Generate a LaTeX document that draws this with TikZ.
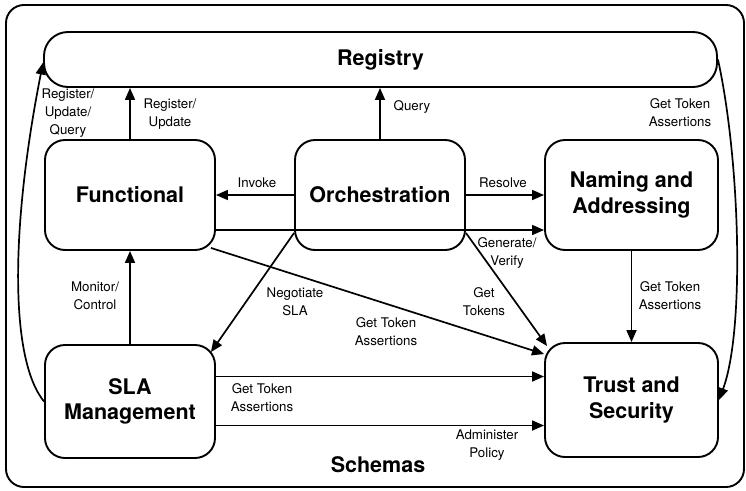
\documentclass[tikz,border=0pt]{standalone}
\usepackage{fontspec}
\setmainfont{TeX Gyre Heros}
\usetikzlibrary{arrows.meta,calc}
\begin{document}
\begin{tikzpicture}[x=1pt,y=-1pt,
  box/.style={draw, line width=1.9pt, rounded corners=20pt, align=center, font=\fontsize{21.5}{25.5}\selectfont\bfseries, inner sep=0pt},
  lbl/.style={align=center, font=\fontsize{13.3}{18}\selectfont, inner sep=0pt},
  arr/.style={line width=1.7pt, -{Triangle[length=12pt,width=10pt]}}]
\useasboundingbox (0,0) rectangle (746,490);
% container and boxes
\node[box, minimum width=738pt, minimum height=482pt, rounded corners=18pt] (frame) at (375,246) {};
\node[box, minimum width=673pt, minimum height=55pt, rounded corners=24pt] (registry) at (380.5,59.5) {Registry};
\node[box, minimum width=170pt, minimum height=110pt] (func) at (130,195) {Functional};
\node[box, minimum width=170pt, minimum height=110pt] (orch) at (380,195) {Orchestration};
\node[box, minimum width=173pt, minimum height=110pt] (naming) at (631.5,195) {Naming and\\Addressing};
\node[box, minimum width=170pt, minimum height=113pt] (sla) at (130,401.5) {SLA\\Management};
\node[box, minimum width=173pt, minimum height=114pt] (trust) at (631.5,400) {Trust and\\Security};
\node[font=\fontsize{21.5}{25.5}\selectfont\bfseries, inner sep=0pt] (schemas) at (378,465) {Schemas};
% connectors
\draw[arr] (func.north) -- (func.north |- registry.south);
\draw[arr] (orch.north) -- (orch.north |- registry.south);
\draw[arr] (orch.west) -- (func.east);
\draw[arr] (orch.east) -- (naming.west);
\draw[arr] (func.east |- 0,230) -- (naming.west |- 0,230);
\draw[arr] ([xshift=-5pt,yshift=3pt]func.south east) -- ([yshift=-12pt]trust.north west);
\draw[arr] ([yshift=18pt]orch.south west) -- ([xshift=-5pt,yshift=-8pt]sla.north east);
\draw[arr] ([yshift=18pt]orch.south east) -- ([xshift=3pt,yshift=-4pt]trust.north west);
\draw[arr] (naming.south) -- (trust.north);
\draw[arr] ([yshift=25pt]sla.east) -- ([yshift=25pt]sla.east -| trust.west);
\draw[arr] ([yshift=-24pt]sla.east) -- ([yshift=-24pt]sla.east -| trust.west);
\draw[arr] (sla.north) -- (func.south);
\draw[arr] (sla.west) .. controls (10,360) and (10,230) .. ([yshift=-3pt]registry.west);
\draw[arr] (registry.east) .. controls (740,160) and (745,330) .. (trust.east);
% labels
\node[lbl] (lrq) at (68,113) {Register/\\Update/\\Query};
\node[lbl] (lru) at (170,114) {Register/\\Update};
\node[lbl] (lq) at (412,107) {Query};
\node[lbl] (lgt1) at (680,112.5) {Get Token\\Assertions};
\node[lbl] (linv) at (257,183) {Invoke};
\node[lbl] (lres) at (503,183) {Resolve};
\node[lbl] (lgen) at (507,253) {Generate/\\Verify};
\node[lbl] (lneg) at (295,302) {Negotiate\\SLA};
\node[lbl] (lgtk) at (484,302) {Get\\Tokens};
\node[lbl] (lgt2) at (386,332) {Get Token\\Assertions};
\node[lbl] (lgt3) at (670,296) {Get Token\\Assertions};
\node[lbl] (lmon) at (95,296) {Monitor/\\Control};
\node[lbl] (lgt4) at (262,398) {Get Token\\Assertions};
\node[lbl] (ladm) at (487,445) {Administer\\Policy};
\end{tikzpicture}
\end{document}
